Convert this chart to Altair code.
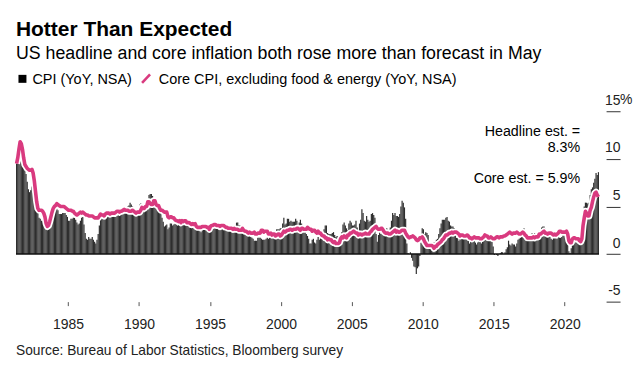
import altair as alt
import pandas as pd

# ---- data: monthly YoY % changes, May 1981 .. May 2022 ----
start_year = 1981
start_month = 5

cpi_yoy = [
    9.8, 9.6, 10.8, 10.8, 11.0, 10.1, 9.6, 8.9,                    # 1981 May-Dec
    8.4, 7.6, 6.8, 6.5, 6.7, 7.1, 6.4, 5.9, 5.0, 5.1, 4.6, 3.8,    # 1982
    3.7, 3.5, 3.6, 3.9, 3.5, 2.6, 2.5, 2.6, 2.9, 2.9, 3.3, 3.8,    # 1983
    4.2, 4.6, 4.8, 4.6, 4.2, 4.2, 4.2, 4.3, 4.3, 4.3, 4.1, 3.9,    # 1984
    3.5, 3.5, 3.7, 3.7, 3.8, 3.8, 3.6, 3.3, 3.1, 3.2, 3.5, 3.8,    # 1985
    3.9, 3.1, 2.2, 1.6, 1.5, 1.8, 1.6, 1.6, 1.8, 1.5, 1.3, 1.1,    # 1986
    1.5, 2.1, 3.0, 3.8, 3.9, 3.7, 3.9, 4.3, 4.4, 4.5, 4.5, 4.4,    # 1987
    4.0, 3.9, 3.9, 3.9, 3.9, 4.0, 4.1, 4.0, 4.2, 4.2, 4.2, 4.4,    # 1988
    4.7, 4.8, 5.0, 5.1, 5.4, 5.2, 5.0, 4.7, 4.3, 4.5, 4.7, 4.6,    # 1989
    5.2, 5.3, 5.2, 4.7, 4.4, 4.7, 4.8, 5.6, 6.2, 6.3, 6.3, 6.1,    # 1990
    5.7, 5.3, 4.9, 4.9, 5.0, 4.7, 4.4, 3.8, 3.4, 2.9, 3.0, 3.1,    # 1991
    2.6, 2.8, 3.2, 3.2, 3.0, 3.1, 3.2, 3.1, 3.0, 3.2, 3.0, 2.9,    # 1992
    3.3, 3.2, 3.1, 3.2, 3.2, 3.0, 2.8, 2.8, 2.7, 2.8, 2.7, 2.7,    # 1993
    2.5, 2.5, 2.5, 2.4, 2.3, 2.5, 2.8, 2.9, 3.0, 2.6, 2.7, 2.7,    # 1994
    2.8, 2.9, 2.9, 3.1, 3.2, 3.0, 2.8, 2.6, 2.5, 2.8, 2.6, 2.5,    # 1995
    2.7, 2.7, 2.8, 2.9, 2.9, 2.8, 3.0, 2.9, 3.0, 3.0, 3.3, 3.3,    # 1996
    3.0, 3.0, 2.8, 2.5, 2.2, 2.3, 2.2, 2.2, 2.2, 2.1, 1.8, 1.7,    # 1997
    1.6, 1.4, 1.4, 1.4, 1.7, 1.7, 1.7, 1.6, 1.5, 1.5, 1.5, 1.6,    # 1998
    1.7, 1.6, 1.7, 2.3, 2.1, 2.0, 2.1, 2.3, 2.6, 2.6, 2.6, 2.7,    # 1999
    2.7, 3.2, 3.8, 3.1, 3.2, 3.7, 3.7, 3.4, 3.5, 3.4, 3.4, 3.4,    # 2000
    3.7, 3.5, 2.9, 3.3, 3.6, 3.2, 2.7, 2.7, 2.6, 2.1, 1.9, 1.6,    # 2001
    1.1, 1.1, 1.5, 1.6, 1.2, 1.1, 1.5, 1.8, 1.5, 2.0, 2.2, 2.4,    # 2002
    2.6, 3.0, 3.0, 2.2, 2.1, 2.1, 2.1, 2.2, 2.3, 2.0, 1.8, 1.9,    # 2003
    1.9, 1.7, 1.7, 2.3, 3.1, 3.3, 3.0, 2.7, 2.5, 3.2, 3.5, 3.3,    # 2004
    3.0, 3.0, 3.1, 3.5, 2.8, 2.5, 3.2, 3.6, 4.7, 4.3, 3.5, 3.4,    # 2005
    4.0, 3.6, 3.4, 3.5, 4.2, 4.3, 4.1, 3.8, 2.1, 1.3, 2.0, 2.5,    # 2006
    2.1, 2.4, 2.8, 2.6, 2.7, 2.7, 2.4, 2.0, 2.8, 3.5, 4.3, 4.1,    # 2007
    4.3, 4.0, 4.0, 3.9, 4.2, 5.0, 5.6, 5.4, 4.9, 3.7, 1.1, 0.1,    # 2008
    0.0, 0.2, -0.4, -0.7, -1.3, -1.4, -2.1, -1.5, -1.3, -0.2, 1.8, 2.7,  # 2009
    2.6, 2.1, 2.3, 2.2, 2.0, 1.1, 1.2, 1.1, 1.1, 1.2, 1.1, 1.5,    # 2010
    1.6, 2.1, 2.7, 3.2, 3.6, 3.6, 3.6, 3.8, 3.9, 3.5, 3.4, 3.0,    # 2011
    2.9, 2.9, 2.7, 2.3, 1.7, 1.7, 1.4, 1.7, 2.0, 2.2, 1.8, 1.7,    # 2012
    1.6, 2.0, 1.5, 1.1, 1.4, 1.8, 2.0, 1.5, 1.2, 1.0, 1.2, 1.5,    # 2013
    1.6, 1.1, 1.5, 2.0, 2.1, 2.1, 2.0, 1.7, 1.7, 1.7, 1.3, 0.8,    # 2014
    -0.1, 0.0, -0.1, -0.2, 0.0, 0.1, 0.2, 0.2, 0.0, 0.2, 0.5, 0.7,  # 2015
    1.4, 1.0, 0.9, 1.1, 1.0, 1.0, 0.8, 1.1, 1.5, 1.6, 1.7, 2.1,    # 2016
    2.5, 2.7, 2.4, 2.2, 1.9, 1.6, 1.7, 1.9, 2.2, 2.0, 2.2, 2.1,    # 2017
    2.1, 2.2, 2.4, 2.5, 2.8, 2.9, 2.9, 2.7, 2.3, 2.5, 2.2, 1.9,    # 2018
    1.6, 1.5, 1.9, 2.0, 1.8, 1.6, 1.8, 1.7, 1.7, 1.8, 2.1, 2.3,    # 2019
    2.5, 2.3, 1.5, 0.3, 0.1, 0.6, 1.0, 1.3, 1.4, 1.2, 1.2, 1.4,    # 2020
    1.4, 1.7, 2.6, 4.2, 5.0, 5.4, 5.4, 5.3, 5.4, 6.2, 6.8, 7.0,    # 2021
    7.5, 7.9, 8.5, 8.3, 8.6,                                       # 2022 Jan-May
]

core_yoy = [
    9.5, 10.1, 11.0, 11.8, 11.6, 11.0, 10.1, 9.4,                  # 1981 May-Dec
    9.2, 9.0, 8.9, 8.8, 8.8, 8.9, 8.5, 7.7, 6.6, 5.5, 4.8, 4.6,    # 1982
    4.6, 4.6, 4.5, 4.3, 3.9, 3.2, 2.9, 3.0, 3.4, 3.9, 4.4, 4.8,    # 1983
    5.0, 5.1, 5.3, 5.2, 5.1, 5.0, 5.0, 5.0, 5.0, 4.9, 4.8, 4.7,    # 1984
    4.6, 4.6, 4.6, 4.5, 4.5, 4.3, 4.2, 4.1, 4.2, 4.3, 4.4, 4.3,    # 1985
    4.4, 4.3, 4.2, 4.1, 4.1, 4.0, 4.0, 4.0, 4.0, 3.9, 3.8, 3.8,    # 1986
    3.8, 3.8, 4.0, 4.2, 4.1, 4.1, 4.0, 4.2, 4.3, 4.3, 4.3, 4.2,    # 1987
    4.3, 4.3, 4.3, 4.3, 4.4, 4.5, 4.5, 4.4, 4.5, 4.5, 4.6, 4.7,    # 1988
    4.6, 4.6, 4.6, 4.5, 4.5, 4.5, 4.6, 4.5, 4.4, 4.3, 4.4, 4.4,    # 1989
    4.4, 4.6, 4.9, 4.8, 4.8, 5.0, 5.0, 5.5, 5.5, 5.3, 5.2, 5.2,    # 1990
    5.6, 5.6, 5.2, 5.1, 5.1, 4.8, 4.6, 4.6, 4.5, 4.4, 4.4, 4.4,    # 1991
    3.9, 3.8, 3.9, 3.9, 3.8, 3.8, 3.6, 3.5, 3.5, 3.4, 3.5, 3.3,    # 1992
    3.5, 3.4, 3.5, 3.5, 3.3, 3.3, 3.3, 3.2, 3.1, 3.2, 3.1, 3.2,    # 1993
    2.9, 2.8, 2.8, 2.8, 2.8, 2.9, 2.9, 2.9, 2.9, 2.8, 2.8, 2.6,    # 1994
    2.9, 3.0, 3.0, 3.1, 3.1, 3.0, 3.0, 3.0, 2.9, 3.0, 3.0, 3.0,    # 1995
    2.9, 2.8, 2.8, 2.7, 2.7, 2.7, 2.7, 2.6, 2.7, 2.6, 2.6, 2.6,    # 1996
    2.5, 2.5, 2.5, 2.7, 2.5, 2.4, 2.4, 2.3, 2.2, 2.3, 2.2, 2.2,    # 1997
    2.2, 2.3, 2.1, 2.1, 2.2, 2.2, 2.2, 2.5, 2.5, 2.3, 2.4, 2.4,    # 1998
    2.4, 2.1, 2.1, 2.2, 2.0, 2.1, 2.1, 1.9, 2.0, 2.1, 2.1, 1.9,    # 1999
    2.0, 2.2, 2.4, 2.3, 2.4, 2.5, 2.5, 2.6, 2.6, 2.5, 2.6, 2.6,    # 2000
    2.6, 2.7, 2.7, 2.6, 2.5, 2.7, 2.7, 2.6, 2.6, 2.6, 2.8, 2.7,    # 2001
    2.6, 2.6, 2.4, 2.5, 2.5, 2.3, 2.2, 2.4, 2.2, 2.2, 2.0, 1.9,    # 2002
    1.9, 1.7, 1.7, 1.5, 1.6, 1.5, 1.5, 1.3, 1.2, 1.3, 1.1, 1.1,    # 2003
    1.1, 1.2, 1.6, 1.8, 1.7, 1.9, 1.8, 1.7, 2.0, 2.0, 2.2, 2.2,    # 2004
    2.3, 2.4, 2.3, 2.2, 2.2, 2.0, 2.1, 2.1, 2.0, 2.1, 2.1, 2.2,    # 2005
    2.1, 2.1, 2.1, 2.3, 2.4, 2.6, 2.7, 2.8, 2.9, 2.7, 2.6, 2.6,    # 2006
    2.7, 2.7, 2.5, 2.3, 2.2, 2.2, 2.2, 2.1, 2.1, 2.2, 2.3, 2.4,    # 2007
    2.5, 2.3, 2.4, 2.3, 2.3, 2.4, 2.5, 2.5, 2.5, 2.2, 2.0, 1.8,    # 2008
    1.7, 1.8, 1.8, 1.9, 1.8, 1.7, 1.5, 1.4, 1.5, 1.7, 1.7, 1.8,    # 2009
    1.6, 1.3, 1.1, 0.9, 0.9, 0.9, 0.9, 0.9, 0.8, 0.6, 0.8, 0.8,    # 2010
    1.0, 1.1, 1.2, 1.3, 1.5, 1.6, 1.8, 2.0, 2.0, 2.1, 2.2, 2.2,    # 2011
    2.3, 2.2, 2.3, 2.3, 2.3, 2.2, 2.1, 1.9, 2.0, 2.0, 1.9, 1.9,    # 2012
    1.9, 2.0, 1.9, 1.7, 1.7, 1.6, 1.7, 1.8, 1.7, 1.7, 1.7, 1.7,    # 2013
    1.6, 1.6, 1.7, 1.8, 2.0, 1.9, 1.9, 1.7, 1.7, 1.8, 1.7, 1.6,    # 2014
    1.6, 1.7, 1.8, 1.8, 1.7, 1.8, 1.8, 1.8, 1.9, 1.9, 2.0, 2.1,    # 2015
    2.2, 2.3, 2.2, 2.1, 2.2, 2.2, 2.2, 2.3, 2.2, 2.1, 2.1, 2.2,    # 2016
    2.3, 2.2, 2.0, 1.9, 1.7, 1.7, 1.7, 1.7, 1.7, 1.8, 1.7, 1.8,    # 2017
    1.8, 1.8, 2.1, 2.1, 2.2, 2.3, 2.4, 2.2, 2.2, 2.1, 2.2, 2.2,    # 2018
    2.2, 2.1, 2.0, 2.1, 2.0, 2.1, 2.2, 2.4, 2.4, 2.3, 2.3, 2.3,    # 2019
    2.3, 2.4, 2.1, 1.4, 1.2, 1.2, 1.6, 1.7, 1.7, 1.6, 1.6, 1.6,    # 2020
    1.4, 1.3, 1.6, 3.0, 3.8, 4.5, 4.3, 4.0, 4.0, 4.6, 4.9, 5.5,    # 2021
    6.0, 6.4, 6.5, 6.2, 6.0,                                       # 2022 Jan-May
]

year_ticks = [1985, 1990, 1995, 2000, 2005, 2010, 2015, 2020]
pct_ticks = [-5, 0, 5, 10, 15]

title_text = "Hotter Than Expected"
subtitle_text = "US headline and core inflation both rose more than forecast in May"
legend_cpi = "CPI (YoY, NSA)"
legend_core = "Core CPI, excluding food & energy (YoY, NSA)"
note_headline_1 = "Headline est. ="
note_headline_2 = "8.3%"
note_core = "Core est. = 5.9%"
source_text = "Source: Bureau of Labor Statistics, Bloomberg survey"

# ---- build table ----
n = len(cpi_yoy)
t0 = [start_year + (start_month - 1 + i) / 12 for i in range(n)]
df = pd.DataFrame({
    "t0": t0,
    "t1": [t + 1 / 12 for t in t0],
    "tm": [t + 1 / 24 for t in t0],
    "cpi": cpi_yoy,
    "core": core_yoy,
})

FONT = "Liberation Sans"
PINK = "#d93a7f"
BAR = "#2e2e2e"
W, H = 592, 191

xscale = alt.Scale(domain=[1981.3333, 2022.915], nice=False, zero=False)
yscale = alt.Scale(domain=[-5, 15], nice=False, zero=False)

xaxis = alt.Axis(values=year_ticks, format="d", domain=False, grid=False,
                 ticks=True, tickSize=4, tickColor="#555", tickWidth=1,
                 labelPadding=12, labelFontSize=14, labelColor="#222",
                 labelFont=FONT, title=None)
yaxis = alt.Axis(orient="right", values=pct_ticks, domain=False, grid=False,
                 ticks=True, tickSize=14, tickColor="#333", tickWidth=1,
                 labelAlign="right", labelBaseline="alphabetic", labelPadding=0,
                 labelOffset=-7, labelFontSize=14, labelColor="#222",
                 labelFont=FONT, labelExpr="'' + datum.value", title=None)

base = alt.Chart(df)

bars = base.mark_rect(color=BAR).encode(
    x=alt.X("t0:Q", scale=xscale, axis=xaxis),
    x2="t1:Q",
    y=alt.Y("cpi:Q", scale=yscale, axis=yaxis),
    y2=alt.datum(0),
)

zero_df = pd.DataFrame({"a": [t0[0]], "b": [t0[-1] + 1 / 12], "z": [0]})
zero_rule = alt.Chart(zero_df).mark_rule(color="#111", strokeWidth=1.6).encode(
    x=alt.X("a:Q", scale=xscale, axis=xaxis),
    x2="b:Q",
    y=alt.Y("z:Q", scale=yscale, axis=yaxis),
)

halo = base.mark_line(color="white", strokeWidth=7, strokeJoin="round").encode(
    x=alt.X("tm:Q", scale=xscale, axis=xaxis),
    y=alt.Y("core:Q", scale=yscale, axis=yaxis),
)
core_line = base.mark_line(color=PINK, strokeWidth=3.6, strokeJoin="round").encode(
    x=alt.X("tm:Q", scale=xscale, axis=xaxis),
    y=alt.Y("core:Q", scale=yscale, axis=yaxis),
)


def label(text, x, y, size, align="left", weight="normal", color="#000"):
    return alt.Chart(pd.DataFrame({"t": [text]})).mark_text(
        align=align, baseline="alphabetic", font=FONT, fontSize=size,
        fontWeight=weight, color=color,
    ).encode(x=alt.value(x), y=alt.value(y), text="t:N")


title = label(title_text, 0, -75.5, 21, weight="bold")
subtitle = label(subtitle_text, 0, -52, 17.8)
leg_txt1 = label(legend_cpi, 16.5, -27.5, 14.5)
leg_txt2 = label(legend_core, 143.3, -27.5, 14.5)
note1 = label(note_headline_1, 566, 24.7, 14.3, align="right")
note2 = label(note_headline_2, 566, 40.7, 14.3, align="right")
note3 = label(note_core, 566, 72.3, 14.3, align="right")
source = label(source_text, 0, 245, 13.8, color="#222")

one = pd.DataFrame({"k": [0]})
leg_sq = alt.Chart(one).mark_rect(color="#000").encode(
    x=alt.value(2.5), x2=alt.value(10.5), y=alt.value(-36.5), y2=alt.value(-28.5))
leg_slash = alt.Chart(one).mark_rule(color=PINK, strokeWidth=2.6).encode(
    x=alt.value(126.5), x2=alt.value(134.5), y=alt.value(-28.5), y2=alt.value(-37))

pct_sign = alt.Chart(pd.DataFrame({"v": [15], "s": ["%"]})).mark_text(
    align="left", baseline="alphabetic", font=FONT, fontSize=14,
    color="#222", dy=-7, x=W + 14,
).encode(y=alt.Y("v:Q", scale=yscale, axis=yaxis), text="s:N")

chart = alt.layer(
    bars, zero_rule, halo, core_line, note1, note2, note3,
    title, subtitle, leg_sq, leg_txt1, leg_slash, leg_txt2, source, pct_sign,
).properties(
    width=W, height=H,
    autosize=alt.AutoSizeParams(type="none"),
    padding={"left": 8, "top": 103, "right": 30, "bottom": 62},
    background="white",
).configure_view(stroke=None)

chart.save("out.html", embed_options={"renderer": "svg", "actions": False})
